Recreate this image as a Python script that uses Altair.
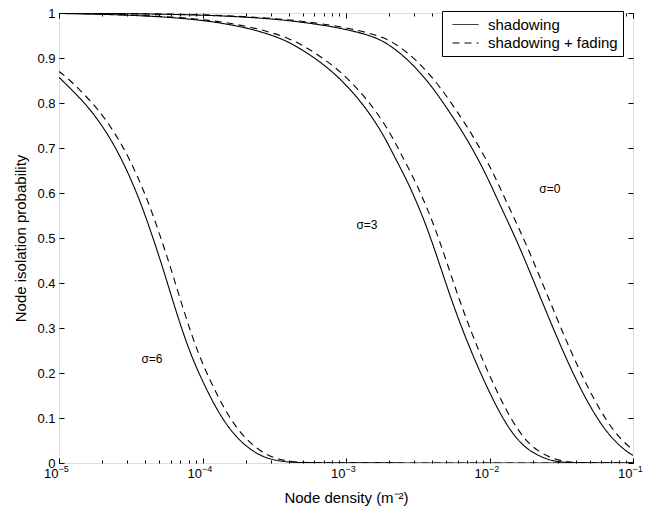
import altair as alt
import pandas as pd

# ---------------- data (x as log10 of node density) ----------------
s0_solid_log10x = [-5.0, -4.0, -3.5, -3.320, -3.088, -2.856, -2.740, -2.624, -2.508, -2.392, -2.276, -2.160,
                   -2.045, -1.975, -1.882, -1.80, -1.697, -1.603, -1.511, -1.418, -1.325, -1.232, -1.140,
                   -1.047, -1.0]
s0_solid_p = [1.0, 0.997, 0.987, 0.980, 0.970, 0.953, 0.938, 0.912, 0.877, 0.833, 0.779, 0.722,
              0.655, 0.607, 0.543, 0.487, 0.408, 0.335, 0.265, 0.199, 0.140, 0.090, 0.052,
              0.026, 0.017]

s0_fading_log10x = [-5.0, -4.0, -3.445, -3.265, -3.033, -2.801, -2.685, -2.569, -2.453, -2.337, -2.221, -2.105,
                    -1.990, -1.920, -1.827, -1.745, -1.642, -1.548, -1.456, -1.363, -1.270, -1.177, -1.085, -1.0]
s0_fading_p = [1.0, 0.998, 0.987, 0.980, 0.970, 0.953, 0.938, 0.912, 0.877, 0.833, 0.779, 0.722,
               0.655, 0.607, 0.543, 0.487, 0.408, 0.335, 0.265, 0.199, 0.140, 0.090, 0.052, 0.029]

s3_solid_log10x = [-5.0, -4.5, -4.0, -3.65, -3.436, -3.319, -3.204, -3.088, -2.972, -2.856, -2.740, -2.671,
                   -2.578, -2.508, -2.44, -2.369, -2.276, -2.184, -2.091, -1.998, -1.905, -1.812, -1.720,
                   -1.603, -1.511, -1.4, -1.0]
s3_solid_p = [0.999, 0.996, 0.986, 0.965, 0.942, 0.921, 0.897, 0.868, 0.831, 0.787, 0.730, 0.686,
              0.630, 0.580, 0.527, 0.462, 0.372, 0.292, 0.220, 0.155, 0.097, 0.053, 0.026,
              0.008, 0.002, 0.0, 0.0]

s3_fading_log10x = [-5.0, -4.445, -3.945, -3.595, -3.381, -3.264, -3.149, -3.033, -2.917, -2.801, -2.685, -2.616,
                    -2.523, -2.453, -2.385, -2.314, -2.221, -2.129, -2.036, -1.943, -1.850, -1.757, -1.665,
                    -1.548, -1.456, -1.345, -1.0]
s3_fading_p = [0.9995, 0.996, 0.986, 0.965, 0.942, 0.921, 0.897, 0.868, 0.831, 0.787, 0.730, 0.686,
               0.630, 0.580, 0.527, 0.462, 0.372, 0.292, 0.220, 0.155, 0.097, 0.053, 0.026,
               0.008, 0.002, 0.0, 0.0]

s6_solid_log10x = [-5.0, -4.9, -4.793, -4.700, -4.608, -4.515, -4.422, -4.329, -4.271, -4.178, -4.086, -3.993,
                   -3.900, -3.807, -3.715, -3.621, -3.529, -3.413, -3.3, -1.0]
s6_solid_p = [0.857, 0.826, 0.790, 0.750, 0.703, 0.643, 0.572, 0.485, 0.428, 0.330, 0.243, 0.177,
              0.118, 0.073, 0.042, 0.020, 0.008, 0.002, 0.0, 0.0]

s6_fading_log10x = [-5.0, -4.945, -4.845, -4.738, -4.645, -4.553, -4.460, -4.367, -4.274, -4.216, -4.123, -4.031,
                    -3.938, -3.845, -3.752, -3.660, -3.566, -3.474, -3.358, -3.25, -1.0]
s6_fading_p = [0.870, 0.857, 0.826, 0.790, 0.750, 0.703, 0.643, 0.572, 0.485, 0.428, 0.330, 0.243,
               0.177, 0.118, 0.073, 0.042, 0.020, 0.008, 0.002, 0.0, 0.0]

kinds = ["shadowing", "shadowing + fading"]

annot_text = ["σ=0", "σ=3", "σ=6"]
annot_log10x = [-1.580, -2.854, -4.352]
annot_p = [0.61, 0.53, 0.232]

x_major_ticks = [1e-5, 1e-4, 1e-3, 1e-2, 1e-1]
x_tick_base = ["10", "10", "10", "10", "10"]
x_tick_exponent = ["−5", "−4", "−3", "−2", "−1"]
minor_mantissas = [2, 3, 4, 5, 6, 7, 8, 9]
y_ticks = [0, 0.1, 0.2, 0.3, 0.4, 0.5, 0.6, 0.7, 0.8, 0.9, 1.0]

# ---------------- build table ----------------
rows = []
series = [
    ("0", kinds[0], s0_solid_log10x, s0_solid_p),
    ("0", kinds[1], s0_fading_log10x, s0_fading_p),
    ("3", kinds[0], s3_solid_log10x, s3_solid_p),
    ("3", kinds[1], s3_fading_log10x, s3_fading_p),
    ("6", kinds[0], s6_solid_log10x, s6_solid_p),
    ("6", kinds[1], s6_fading_log10x, s6_fading_p),
]
for sig, kind, xs, ps in series:
    for i, (lx, p) in enumerate(zip(xs, ps)):
        rows.append({"density": 10 ** lx, "p": p, "kind": kind, "series": sig + "|" + kind, "order": i})
df = pd.DataFrame(rows)

annot = pd.DataFrame({"density": [10 ** v for v in annot_log10x], "p": annot_p, "label": annot_text})

x_minor_ticks = [m * d for d in x_major_ticks[:-1] for m in minor_mantissas]

FONT = "Liberation Sans"
xscale = alt.Scale(type="log", domain=[1e-5, 1e-1], nice=False)
yscale = alt.Scale(domain=[0, 1], nice=False, zero=False)


def js_list(items):
    return "[" + ",".join("'" + t + "'" for t in items) + "]"


idx_expr = "[round(log(datum.value)/LN10)+5]"
base_expr = js_list(x_tick_base) + idx_expr
exp_expr = js_list(x_tick_exponent) + idx_expr

lines = alt.Chart(df).mark_line(color="black", strokeWidth=1.1, clip=True, interpolate="basis").encode(
    x=alt.X("density:Q", scale=xscale,
            axis=alt.Axis(orient="bottom", values=x_major_ticks, labelExpr=base_expr, tickSize=5, offset=-5,
                          domain=False, grid=False, labelPadding=4, labelFontSize=13, labelFont=FONT,
                          labelColor="black", tickColor="black", labelAlign="right", labelOffset=-1,
                          title="Node density (m⁻²)",
                          titleFontSize=15, titleFont=FONT, titleFontWeight="normal", titleColor="black",
                          titlePadding=10, labelFlush=False, labelOverlap=False)),
    y=alt.Y("p:Q", scale=yscale,
            axis=alt.Axis(orient="left", values=y_ticks, format=".1~f", tickSize=5, offset=-5, domain=False,
                          grid=False, labelPadding=4, labelFontSize=13, labelFont=FONT, labelColor="black",
                          tickColor="black", title="Node isolation probability", titleFontSize=15,
                          titleFont=FONT, titleFontWeight="normal", titleColor="black", titlePadding=8,
                          labelFlush=False, labelOverlap=False)),
    strokeDash=alt.StrokeDash("kind:N", scale=alt.Scale(domain=kinds, range=[[1, 0], [7, 5]]),
                              legend=alt.Legend(title=None, orient="none", legendX=383, legendY=-2,
                                                strokeColor="black", fillColor="white", padding=4.5,
                                                symbolType="M-1.53,0H1.53", symbolSize=289,
                                                symbolStrokeWidth=1, symbolStrokeColor="black",
                                                symbolOffset=10, labelFontSize=15, labelFont=FONT,
                                                labelColor="black", rowPadding=1.5, labelOffset=13.5,
                                                cornerRadius=0)),
    detail="series:N",
    order="order:Q",
)

ghost = alt.Chart(df).mark_point(opacity=0)

x_minor_bottom = ghost.encode(
    x=alt.X("density:Q", scale=xscale,
            axis=alt.Axis(orient="bottom", values=x_minor_ticks, labels=False, tickSize=3, offset=-3,
                          domain=False, grid=False, title=None, tickColor="black")),
    y=alt.Y("p:Q", scale=yscale,
            axis=alt.Axis(orient="right", values=y_ticks, labels=False, tickSize=5, offset=-5,
                          domain=False, grid=False, title=None, tickColor="black")),
)
x_exponents = ghost.encode(
    x=alt.X("density:Q", scale=xscale,
            axis=alt.Axis(orient="bottom", values=x_major_ticks, labelExpr=exp_expr, ticks=False, offset=0,
                          domain=False, grid=False, title=None, labelPadding=1, labelFontSize=9,
                          labelFont=FONT, labelColor="black", labelAlign="left", labelOffset=-1,
                          labelFlush=False, labelOverlap=False)),
    y=alt.Y("p:Q", scale=yscale, axis=None),
)
x_major_top = ghost.encode(
    x=alt.X("density:Q", scale=xscale,
            axis=alt.Axis(orient="top", values=x_major_ticks, labels=False, tickSize=5, offset=-5,
                          domain=False, grid=False, title=None, tickColor="black")),
    y=alt.Y("p:Q", scale=yscale, axis=None),
)
x_minor_top = ghost.encode(
    x=alt.X("density:Q", scale=xscale,
            axis=alt.Axis(orient="top", values=x_minor_ticks, labels=False, tickSize=3, offset=-3,
                          domain=False, grid=False, title=None, tickColor="black")),
    y=alt.Y("p:Q", scale=yscale, axis=None),
)

texts = alt.Chart(annot).mark_text(font=FONT, fontSize=12, color="black").encode(
    x=alt.X("density:Q", scale=xscale, axis=None),
    y=alt.Y("p:Q", scale=yscale, axis=None),
    text="label:N",
)

chart = alt.layer(lines, x_minor_bottom, x_exponents, x_major_top, x_minor_top, texts).resolve_axis(
    x="independent", y="independent"
).properties(
    width=574, height=450,
    autosize=alt.AutoSizeParams(type="none"),
    padding={"left": 51, "top": 5, "right": 16, "bottom": 44},
).configure_view(stroke="black", strokeWidth=1).configure(background="white")

chart.save("out.html", embed_options={"renderer": "svg", "actions": False})
